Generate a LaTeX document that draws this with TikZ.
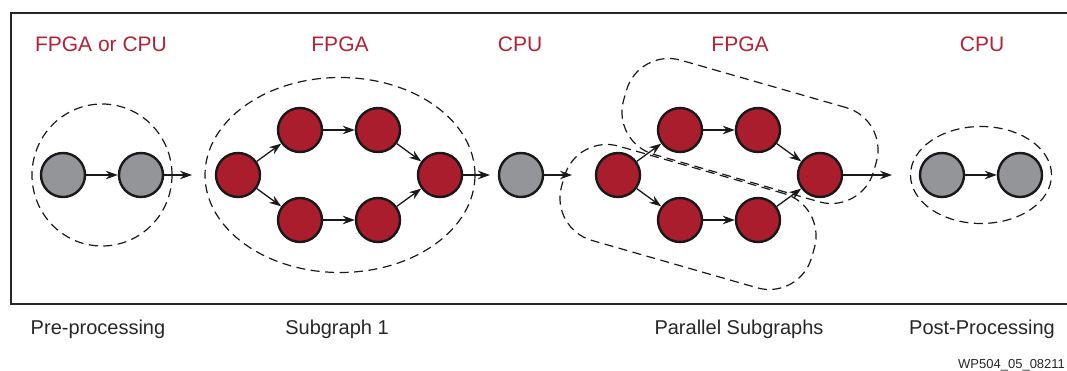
\documentclass[tikz,border=0pt]{standalone}
\usepackage{fontspec}
\setmainfont{Liberation Sans}
\usetikzlibrary{arrows.meta,shapes.geometric}

\definecolor{nodered}{RGB}{169,29,45}
\definecolor{labelred}{RGB}{178,34,52}
\definecolor{nodegray}{RGB}{147,149,152}

\begin{document}
\begin{tikzpicture}[
  x=1pt, y=-1pt,
  >={Stealth[length=12pt, width=8.5pt]},
  gnode/.style={circle, draw=black!90, line width=2.4pt, fill=nodegray,
                minimum size=44pt, inner sep=0pt},
  rnode/.style={gnode, fill=nodered},
  link/.style={->, line width=1.3pt, black!90},
  grp/.style={draw=black!90, line width=1.2pt, dash pattern=on 9pt off 5.5pt,
              inner sep=0pt},
  lane/.style={grp, rectangle, rounded corners=44pt, rotate=-16,
               minimum width=260pt, minimum height=98pt},
  head/.style={font=\fontsize{21}{24}\selectfont, text=labelred, anchor=base},
  foot/.style={font=\fontsize{20}{24}\selectfont, text=black!85, anchor=base},
]
\useasboundingbox (0,0) rectangle (1067,371);

% frame
\draw[line width=2.4pt, black!85] (1067,13) -- (11,13) -- (11,304) -- (1067,304);

% group outlines
\node[grp, ellipse, minimum width=140pt, minimum height=142pt] (pregrp) at (102,175) {};
\node[grp, ellipse, minimum width=270pt, minimum height=195pt] (subgrp) at (340,175) {};
\node[lane] (uplane) at (750,131) {};
\node[lane] (lowlane) at (688,217) {};
\node[grp, ellipse, minimum width=141pt, minimum height=97pt] (postgrp) at (981,175) {};

% pre-processing
\node[gnode] (pre1) at (63,175) {};
\node[gnode] (pre2) at (141,175) {};
\coordinate (preout) at (192,175);
\draw[link] (pre1) -- (pre2);
\draw[link] (pre2) -- (preout);

% subgraph 1
\node[rnode] (sa) at (238,175) {};
\node[rnode] (sb) at (300,130) {};
\node[rnode] (sc) at (300,220) {};
\node[rnode] (sd) at (378,130) {};
\node[rnode] (se) at (378,220) {};
\node[rnode] (sf) at (440,175) {};
\coordinate (subout) at (490,175);
\draw[link] (sa) -- (sb);
\draw[link] (sa) -- (sc);
\draw[link] (sb) -- (sd);
\draw[link] (sc) -- (se);
\draw[link] (sd) -- (sf);
\draw[link] (se) -- (sf);
\draw[link] (sf) -- (subout);

% cpu step
\node[gnode] (mid) at (521,175) {};
\coordinate (midout) at (572,175);
\draw[link] (mid) -- (midout);

% parallel subgraphs
\node[rnode] (pa) at (618,175) {};
\node[rnode] (pb) at (680,130) {};
\node[rnode] (pc) at (680,220) {};
\node[rnode] (pd) at (758,130) {};
\node[rnode] (pe) at (758,220) {};
\node[rnode] (pf) at (820,175) {};
\coordinate (parout) at (892,175);
\draw[link] (pa) -- (pb);
\draw[link] (pa) -- (pc);
\draw[link] (pb) -- (pd);
\draw[link] (pc) -- (pe);
\draw[link] (pd) -- (pf);
\draw[link] (pe) -- (pf);
\draw[link] (pf) -- (parout);

% post-processing
\node[gnode] (post1) at (942,175) {};
\node[gnode] (post2) at (1020,175) {};
\draw[link] (post1) -- (post2);

% labels
\node[head] (hpre) at (101,52) {FPGA or CPU};
\node[head] (hsub) at (340,52) {FPGA};
\node[head] (hmid) at (520,52) {CPU};
\node[head] (hpar) at (740,52) {FPGA};
\node[head] (hpost) at (982,52) {CPU};

\node[foot] (fpre) at (98,334) {Pre-processing};
\node[foot] (fsub) at (337,334) {Subgraph 1};
\node[foot] (fpar) at (739,334) {Parallel Subgraphs};
\node[foot] (fpost) at (982,334) {Post-Processing};

\node[font=\fontsize{13}{15}\selectfont, text=black!85, anchor=base west,
      inner sep=0pt] (figid) at (958,368) {WP504\_05\_08211};
\end{tikzpicture}
\end{document}
